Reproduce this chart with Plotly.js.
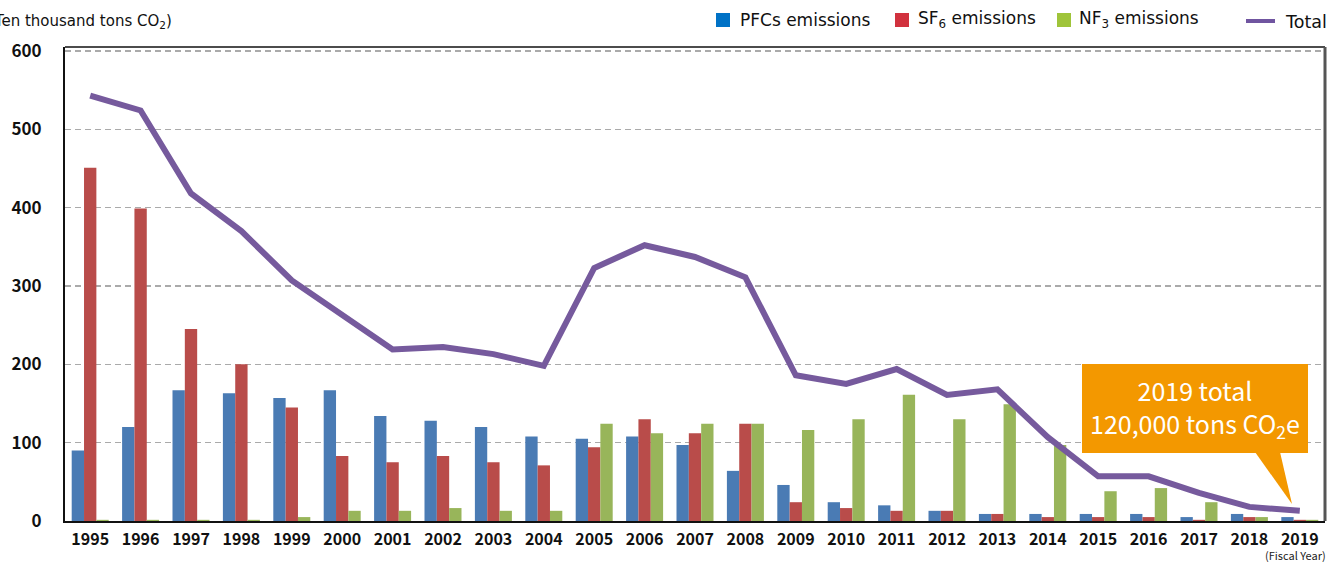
<!DOCTYPE html>
<html>
<head>
<meta charset="utf-8">
<script src="https://cdn.plot.ly/plotly-3.0.1.min.js"></script>
<style>html,body{margin:0;padding:0;background:#fff;}#chart{width:1329px;height:562px;}</style>
</head>
<body>
<div id="chart"></div>
<script>
// ---- data (ten thousand tons CO2) ----
const years = ['1995','1996','1997','1998','1999','2000','2001','2002','2003','2004','2005','2006','2007','2008','2009','2010','2011','2012','2013','2014','2015','2016','2017','2018','2019'];
const pfcs  = [90, 120, 167, 163, 157, 167, 134, 128, 120, 108, 105, 108, 97, 64, 46, 24, 20, 13, 9, 9, 9, 9, 5, 9, 5];
const sf6   = [451, 399, 245, 200, 145, 83, 75, 83, 75, 71, 94, 130, 112, 124, 24, 16.5, 13, 13, 9, 5, 5, 5, 1.5, 5, 1.5];
const nf3   = [1.5, 1.5, 1.5, 1.5, 5, 13, 13, 16.5, 13, 13, 124, 112, 124, 124, 116, 130, 161, 130, 149, 97, 38, 42, 24, 5, 1.5];
const total = [543, 524, 418, 370, 307, 264, 219, 222, 213, 198, 323, 352, 337, 311, 186, 175, 194, 161, 168, 107, 57, 57, 36, 18, 13];
const yTicks = [0, 100, 200, 300, 400, 500, 600];

// ---- layout geometry helpers ----
const L = 65, T = 47, W = 1260, H = 474;
const px = x => (x - L) / W;
const py = y => (T + H - y) / H;

const cBlue = '#4a7bb4', cRed = '#b94c4a', cGreen = '#98b55a', cLine = '#765a9d';
const legBlue = '#0072c6', legRed = '#d1323e', legGreen = '#9fc43a', legLine = '#7055a0';
const jp = '"Noto Sans CJK JP", "Noto Sans", sans-serif';

const traces = [
  {type: 'bar', x: years, y: pfcs, name: 'PFCs emissions', marker: {color: cBlue}, showlegend: false},
  {type: 'bar', x: years, y: sf6, name: 'SF6 emissions', marker: {color: cRed}, showlegend: false},
  {type: 'bar', x: years, y: nf3, name: 'NF3 emissions', marker: {color: cGreen}, showlegend: false},
  {type: 'scatter', mode: 'lines', x: years, y: total, name: 'Total', line: {color: cLine, width: 6}, showlegend: false}
];

const shapes = [
  // frame top and right
  {type: 'line', xref: 'paper', yref: 'paper', x0: 0, x1: 1, y0: 1, y1: 1, line: {color: '#111', width: 1.5}},
  {type: 'line', xref: 'paper', yref: 'paper', x0: 1, x1: 1, y0: 0, y1: 1, line: {color: '#555', width: 3}},
  // callout box and pointer
  {type: 'rect', xref: 'paper', yref: 'paper', x0: px(1082), x1: px(1308), y0: py(453), y1: py(364), fillcolor: '#f39800', line: {width: 0}},
  {type: 'path', xref: 'paper', yref: 'paper', path: `M ${px(1255)} ${py(452)} L ${px(1280)} ${py(452)} L ${px(1292)} ${py(504)} Z`, fillcolor: '#f39800', line: {width: 0}},
  // legend symbols
  {type: 'rect', xref: 'paper', yref: 'paper', x0: px(716), x1: px(730), y0: py(27), y1: py(13), fillcolor: legBlue, line: {width: 0}},
  {type: 'rect', xref: 'paper', yref: 'paper', x0: px(895), x1: px(909), y0: py(27), y1: py(13), fillcolor: legRed, line: {width: 0}},
  {type: 'rect', xref: 'paper', yref: 'paper', x0: px(1057), x1: px(1071), y0: py(27), y1: py(13), fillcolor: legGreen, line: {width: 0}},
  {type: 'line', xref: 'paper', yref: 'paper', x0: px(1246), x1: px(1275), y0: py(21), y1: py(21), line: {color: legLine, width: 4}}
];

const legFont = {family: 'DejaVu Sans, sans-serif', size: 17, color: '#111'};
const annotations = [
  {xref: 'paper', yref: 'paper', x: px(738), y: py(20), xanchor: 'left', yanchor: 'middle', text: 'PFCs emissions', showarrow: false, font: legFont},
  {xref: 'paper', yref: 'paper', x: px(916), y: py(20), xanchor: 'left', yanchor: 'middle', text: 'SF<sub>6</sub> emissions', showarrow: false, font: legFont},
  {xref: 'paper', yref: 'paper', x: px(1077), y: py(20), xanchor: 'left', yanchor: 'middle', text: 'NF<sub>3</sub> emissions', showarrow: false, font: legFont},
  {xref: 'paper', yref: 'paper', x: px(1283), y: py(22), xanchor: 'left', yanchor: 'middle', text: 'Total', showarrow: false, font: {family: 'DejaVu Sans, sans-serif', size: 17.5, color: '#111'}},
  // axis unit (partly cut off at the left edge, as in the original)
  {xref: 'paper', yref: 'paper', x: px(174), y: py(21), xanchor: 'right', yanchor: 'middle', text: '(Ten thousand tons CO<sub>2</sub>)', showarrow: false, font: {family: 'DejaVu Sans, sans-serif', size: 15, color: '#111'}},
  // fiscal year
  {xref: 'paper', yref: 'paper', x: px(1328), y: py(555), xanchor: 'right', yanchor: 'middle', text: '(Fiscal Year)', showarrow: false, font: {family: jp, size: 11, color: '#222'}},
  // callout text
  {xref: 'paper', yref: 'paper', x: px(1195), y: py(408), xanchor: 'center', yanchor: 'middle', text: '2019 total<br>120,000 tons CO<sub>2</sub>e', showarrow: false, align: 'center', font: {family: jp, size: 25, color: '#fff'}}
];

const layout = {
  width: 1329, height: 562,
  margin: {l: L, r: 1329 - L - W, t: T, b: 562 - T - H, pad: 0},
  paper_bgcolor: '#fff', plot_bgcolor: '#fff',
  barmode: 'group', bargap: 0.266, bargroupgap: 0,
  showlegend: false,
  xaxis: {
    type: 'category', tickvals: years, ticktext: years,
    showline: true, linecolor: '#111', linewidth: 2, showgrid: false, ticks: '', zeroline: false,
    tickfont: {family: jp, size: 16, weight: 'bold', color: '#111'}, ticklabelstandoff: 3
  },
  yaxis: {
    range: [0, 605], tickvals: yTicks, ticktext: yTicks.map(String),
    showline: true, linecolor: '#111', linewidth: 2, ticks: '', zeroline: false,
    showgrid: true, gridcolor: '#aaaaaa', gridwidth: 1.3, griddash: '6px,4px',
    tickfont: {family: jp, size: 17, weight: 'bold', color: '#111'}, ticklabelstandoff: 18
  },
  shapes: shapes,
  annotations: annotations
};

Plotly.newPlot('chart', traces, layout, {displayModeBar: false, staticPlot: true});
</script>
</body>
</html>
